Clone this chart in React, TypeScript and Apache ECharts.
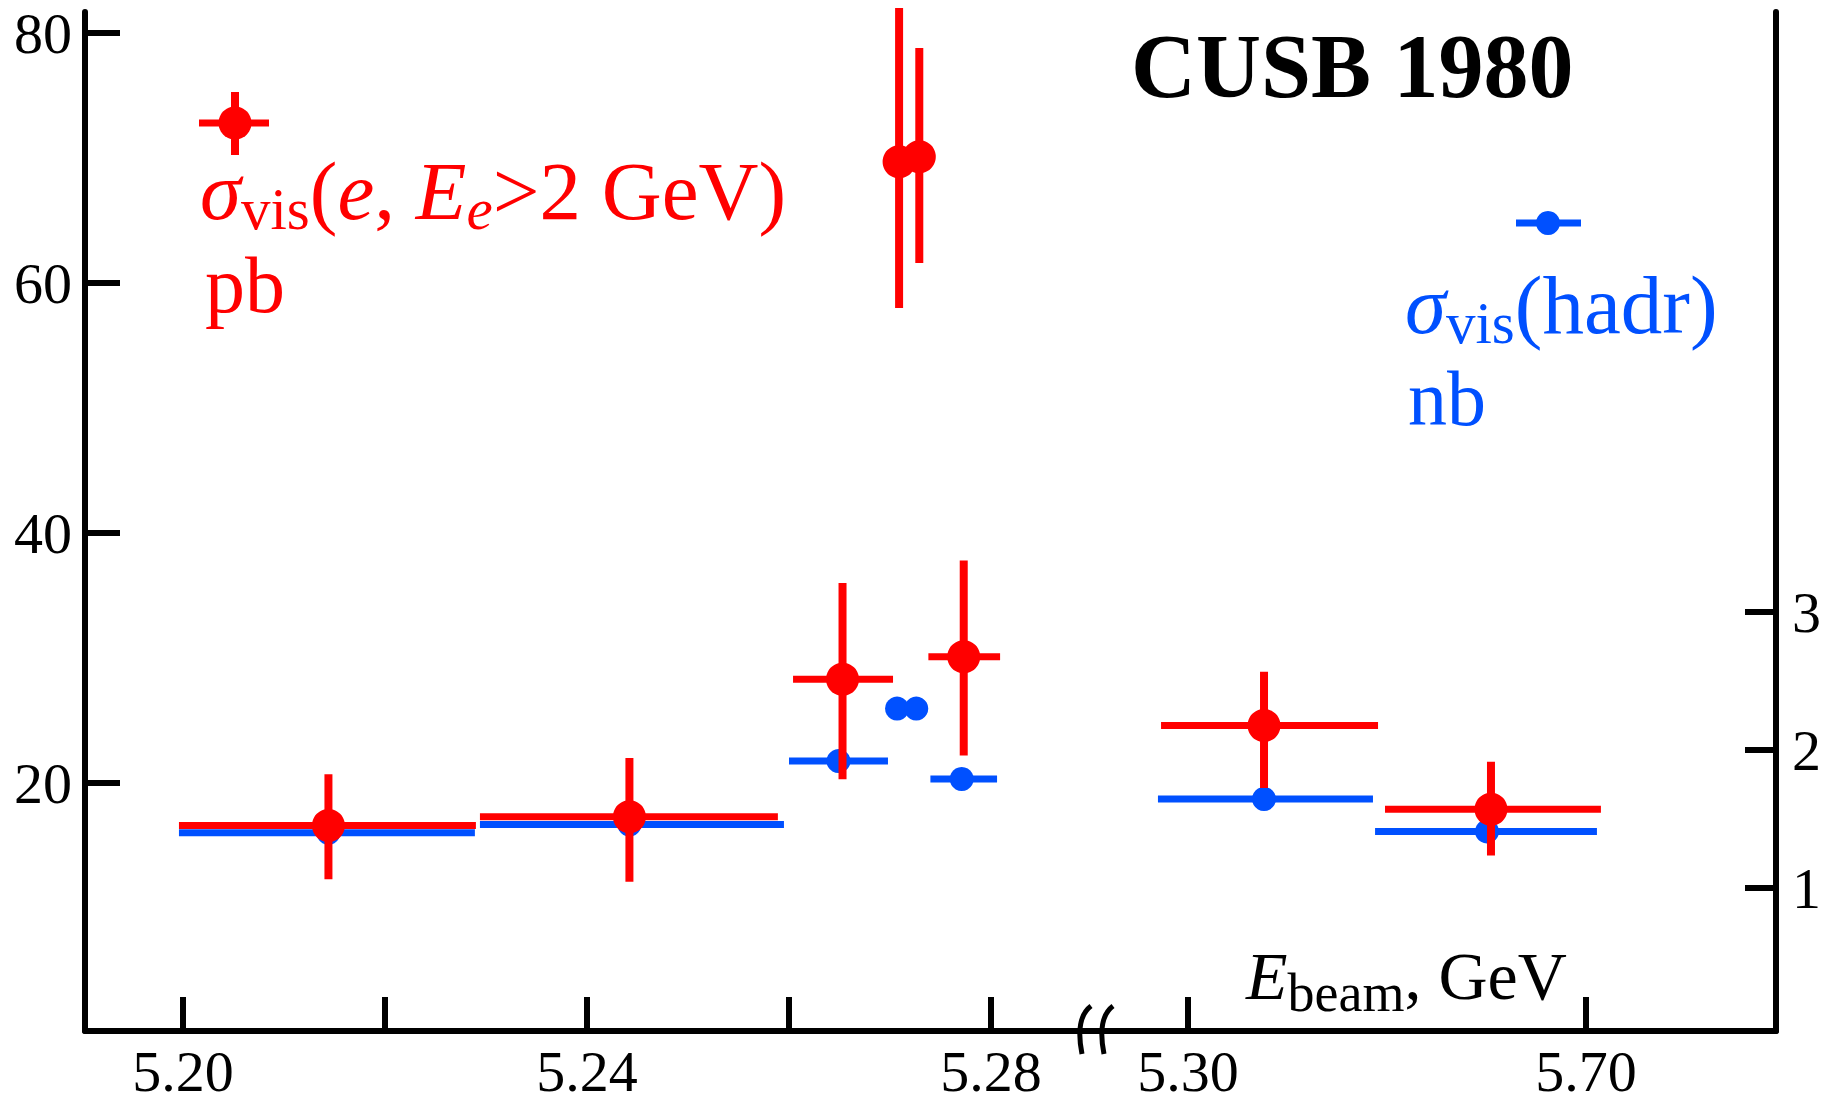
import React, { useEffect, useRef } from 'react';
import * as echarts from 'echarts';

const RED = '#ff0000';
const BLUE = '#0050ff';
const FONT = 'Liberation Serif';

// ---- Data ----
// segment 0 = left part of the broken axis (5.19 - 5.29), 1 = right part (5.30 ... 5.70)
const redSeg = [0, 0, 0, 0, 0, 0, 1, 1];
const redE = [5.2144, 5.2442, 5.2653, 5.2709, 5.2729, 5.2773, 5.3764, 5.6045];
const redELo = [5.1996, 5.2294, 5.2604, null, null, 5.2738, 5.2729, 5.498];
const redEHi = [5.229, 5.2589, 5.2703, null, null, 5.2809, 5.491, 5.715];
const redSigma = [16.6, 17.3, 28.3, 69.7, 70.1, 30.1, 24.6, 17.9]; // pb
const redSigmaLo = [12.3, 12.1, 20.3, 58.0, 61.6, 22.2, 19.6, 14.2];
const redSigmaHi = [20.7, 22.0, 36.0, 82.0, 78.8, 37.8, 28.9, 21.7];

const blueSeg = [0, 0, 0, 0, 0, 0, 1, 1];
const blueE = [5.2144, 5.2442, 5.2649, 5.2707, 5.2726, 5.2771, 5.3764, 5.6005];
const blueELo = [5.1996, 5.2294, 5.26, null, null, 5.274, 5.2698, 5.488];
const blueEHi = [5.2289, 5.2595, 5.2698, null, null, 5.2806, 5.4859, 5.711];
const blueSigma = [1.4, 1.46, 1.92, 2.3, 2.3, 1.79, 1.645, 1.41]; // nb

const leftTicks = [5.2, 5.22, 5.24, 5.26, 5.28];
const leftLabels = [5.2, 5.24, 5.28];
const rightTicks = [5.3, 5.7];
const pbTicks = [20, 40, 60, 80];
const nbTicks = [1, 2, 3];

// axis ranges
const X0_MIN = 5.190297;
const X0_MAX = 5.290396;
const X1_MIN = 5.207538;
const X1_MAX = 5.890955;
const PB_MIN = 0.16;
const PB_MAX = 81.68;
const NB_MIN = -0.0362;
const NB_MAX = 7.348;

function buildRows(
  seg: number[], e: number[], elo: (number | null)[], ehi: (number | null)[],
  s: number[], slo: (number | null)[] | null, shi: (number | null)[] | null, which: number
) {
  const rows: number[][] = [];
  for (let i = 0; i < e.length; i++) {
    if (seg[i] !== which) continue;
    rows.push([
      e[i], s[i],
      elo[i] == null ? e[i] : (elo[i] as number),
      ehi[i] == null ? e[i] : (ehi[i] as number),
      slo && slo[i] != null ? (slo[i] as number) : s[i],
      shi && shi[i] != null ? (shi[i] as number) : s[i],
    ]);
  }
  return rows;
}

function makeRender(color: string, r: number, hw: number, vw: number) {
  return (params: any, api: any) => {
    const x = api.value(0);
    const y = api.value(1);
    const xlo = api.value(2);
    const xhi = api.value(3);
    const ylo = api.value(4);
    const yhi = api.value(5);
    const c = api.coord([x, y]);
    const children: any[] = [];
    if (xhi > xlo) {
      const a = api.coord([xlo, y]);
      const b = api.coord([xhi, y]);
      children.push({
        type: 'line',
        shape: { x1: a[0], y1: a[1], x2: b[0], y2: b[1] },
        style: { stroke: color, lineWidth: hw },
      });
    }
    if (yhi > ylo) {
      const a = api.coord([x, ylo]);
      const b = api.coord([x, yhi]);
      children.push({
        type: 'line',
        shape: { x1: a[0], y1: a[1], x2: b[0], y2: b[1] },
        style: { stroke: color, lineWidth: vw },
      });
    }
    children.push({ type: 'circle', shape: { cx: c[0], cy: c[1], r }, style: { fill: color } });
    return { type: 'group', children };
  };
}

const axisLineStyle = { color: '#000', width: 6 };

function xAxisCfg(grid: number, min: number, max: number, ticks: number[], labels: number[]) {
  return {
    gridIndex: grid,
    type: 'value',
    min,
    max,
    axisLine: { show: true, onZero: false, lineStyle: axisLineStyle },
    axisTick: { show: true, inside: true, length: 34, lineStyle: { color: '#000', width: 6 }, customValues: ticks },
    axisLabel: {
      show: true,
      customValues: labels,
      formatter: (v: number) => v.toFixed(2),
      fontSize: 58,
      fontFamily: FONT,
      color: '#000',
      margin: 11,
    },
    splitLine: { show: false },
  };
}

export default function App() {
  const ref = useRef<HTMLDivElement>(null);
  useEffect(() => {
    if (!ref.current) return;
    const chart = echarts.init(ref.current, undefined, { renderer: 'svg' });

    // subscript: bottom-aligned token whose box height controls how far it drops
    const sub = (fill: string, size: number, h: number, italic = false) => ({
      fontFamily: FONT, fontSize: size, fill, height: h, verticalAlign: 'bottom', fontStyle: italic ? 'italic' : 'normal',
    });
    const main = (fill: string, size: number, lh: number, italic = false) => ({
      fontFamily: FONT, fontSize: size, fill, lineHeight: lh, fontStyle: italic ? 'italic' : 'normal',
    });

    const brk = (x: number) => ({
      type: 'bezierCurve',
      shape: { x1: x + 7, y1: 1006, cpx1: x - 9, cpy1: 1018, cpx2: x - 4, cpy2: 1044, x2: x - 2, y2: 1054 },
      style: { stroke: '#000', lineWidth: 5, fill: null },
      z: 10,
    });

    const LEG = 83;
    const LEGSUB = 59;
    const LH = 84;
    const SH = 48;

    chart.setOption({
      animation: false,
      backgroundColor: '#fff',
      grid: [
        { left: 85, top: 12, width: 1011, height: 1019 },
        { left: 1096, top: 12, width: 680, height: 1019 },
      ],
      xAxis: [
        xAxisCfg(0, X0_MIN, X0_MAX, leftTicks, leftLabels),
        xAxisCfg(1, X1_MIN, X1_MAX, rightTicks, rightTicks),
      ],
      yAxis: [
        {
          gridIndex: 0, type: 'value', position: 'left', min: PB_MIN, max: PB_MAX,
          axisLine: { show: true, onZero: false, lineStyle: axisLineStyle },
          axisTick: { show: true, inside: true, length: 35, lineStyle: { color: '#000', width: 6 }, customValues: pbTicks },
          axisLabel: { show: true, customValues: pbTicks, fontSize: 58, fontFamily: FONT, color: '#000', margin: 13 },
          splitLine: { show: false },
        },
        { gridIndex: 0, type: 'value', show: false, min: NB_MIN, max: NB_MAX, splitLine: { show: false } },
        { gridIndex: 1, type: 'value', show: false, min: PB_MIN, max: PB_MAX, splitLine: { show: false } },
        {
          gridIndex: 1, type: 'value', position: 'right', min: NB_MIN, max: NB_MAX,
          axisLine: { show: true, onZero: false, lineStyle: axisLineStyle },
          axisTick: { show: true, inside: true, length: 31, lineStyle: { color: '#000', width: 6 }, customValues: nbTicks },
          axisLabel: { show: true, customValues: nbTicks, fontSize: 58, fontFamily: FONT, color: '#000', margin: 16 },
          splitLine: { show: false },
        },
      ],
      series: [
        {
          type: 'custom', name: 'hadr-left', xAxisIndex: 0, yAxisIndex: 1, z: 2, clip: false,
          renderItem: makeRender(BLUE, 12, 7, 7),
          encode: { x: 0, y: 1 },
          data: buildRows(blueSeg, blueE, blueELo, blueEHi, blueSigma, null, null, 0),
        },
        {
          type: 'custom', name: 'hadr-right', xAxisIndex: 1, yAxisIndex: 3, z: 2, clip: false,
          renderItem: makeRender(BLUE, 12, 7, 7),
          encode: { x: 0, y: 1 },
          data: buildRows(blueSeg, blueE, blueELo, blueEHi, blueSigma, null, null, 1),
        },
        {
          type: 'custom', name: 'e-left', xAxisIndex: 0, yAxisIndex: 0, z: 3, clip: false,
          renderItem: makeRender(RED, 16.5, 7, 8),
          encode: { x: 0, y: 1 },
          data: buildRows(redSeg, redE, redELo, redEHi, redSigma, redSigmaLo, redSigmaHi, 0),
        },
        {
          type: 'custom', name: 'e-right', xAxisIndex: 1, yAxisIndex: 2, z: 3, clip: false,
          renderItem: makeRender(RED, 16.5, 7, 8),
          encode: { x: 0, y: 1 },
          data: buildRows(redSeg, redE, redELo, redEHi, redSigma, redSigmaLo, redSigmaHi, 1),
        },
      ],
      graphic: [
        // red legend key
        { type: 'line', shape: { x1: 199, y1: 123, x2: 269, y2: 123 }, style: { stroke: RED, lineWidth: 7 } },
        { type: 'line', shape: { x1: 235, y1: 92, x2: 235, y2: 155 }, style: { stroke: RED, lineWidth: 8 } },
        { type: 'circle', shape: { cx: 235, cy: 123, r: 16.5 }, style: { fill: RED } },
        // blue legend key
        { type: 'line', shape: { x1: 1516, y1: 223, x2: 1581, y2: 223 }, style: { stroke: BLUE, lineWidth: 7 } },
        { type: 'circle', shape: { cx: 1548, cy: 223, r: 12 }, style: { fill: BLUE } },
        // red legend text
        {
          type: 'text', x: 200, y: 191,
          style: {
            text: '{s|σ}{sub|vis}{n|(}{i|e}{n|, }{i|E}{isub|e}{n|>2 GeV)}',
            align: 'left', verticalAlign: 'middle', fill: RED, fontFamily: FONT, fontSize: LEG,
            rich: {
              s: main(RED, LEG, LH, true), n: main(RED, LEG, LH), i: main(RED, LEG, LH, true),
              sub: sub(RED, LEGSUB, SH), isub: sub(RED, LEGSUB, SH, true),
            },
          },
        },
        {
          type: 'text', x: 205, y: 285,
          style: { text: 'pb', align: 'left', verticalAlign: 'middle', fill: RED, fontFamily: FONT, fontSize: 80 },
        },
        // blue legend text
        {
          type: 'text', x: 1405, y: 305,
          style: {
            text: '{s|σ}{sub|vis}{n|(hadr)}',
            align: 'left', verticalAlign: 'middle', fill: BLUE, fontFamily: FONT, fontSize: LEG,
            rich: { s: main(BLUE, LEG, LH, true), n: main(BLUE, LEG, LH), sub: sub(BLUE, LEGSUB, SH) },
          },
        },
        {
          type: 'text', x: 1408, y: 398,
          style: { text: 'nb', align: 'left', verticalAlign: 'middle', fill: BLUE, fontFamily: FONT, fontSize: 78 },
        },
        // title
        {
          type: 'text', x: 1131, y: 66,
          style: { text: 'CUSB 1980', align: 'left', verticalAlign: 'middle', fill: '#000', fontFamily: FONT, fontSize: 90, fontWeight: 'bold' },
        },
        // axis name
        {
          type: 'text', x: 1246, y: 976,
          style: {
            text: '{i|E}{sub|beam}{n|, GeV}',
            align: 'left', verticalAlign: 'middle', fill: '#000', fontFamily: FONT, fontSize: 68,
            rich: { i: main('#000', 68, 80, true), n: main('#000', 68, 80), sub: sub('#000', 54, 46) },
          },
        },
        // axis break marks
        brk(1084),
        brk(1106),
      ],
    });
    return () => chart.dispose();
  }, []);

  return (
    <div
      ref={ref}
      style={{ position: 'fixed', left: 0, top: 0, width: 1843, height: 1107, background: '#fff' }}
    />
  );
}
